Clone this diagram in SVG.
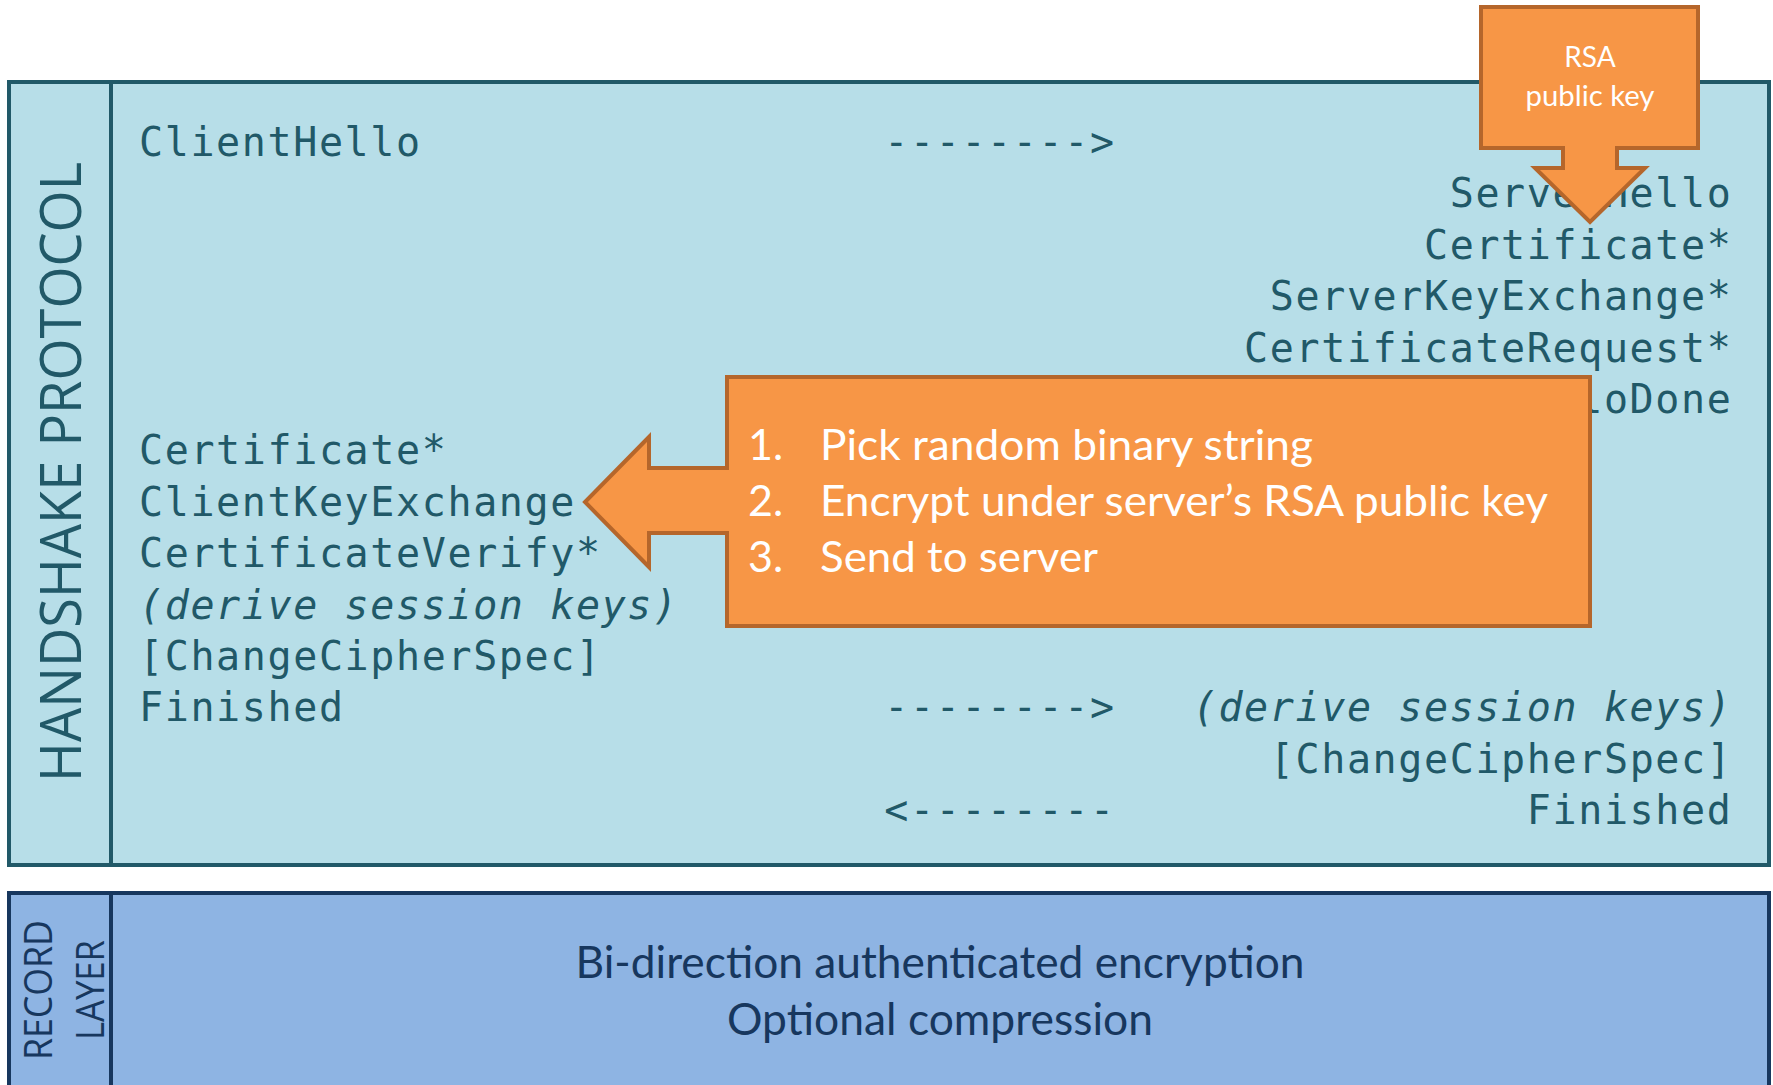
<svg xmlns="http://www.w3.org/2000/svg" width="1773" height="1085" viewBox="0 0 1773 1085">
<style>
.mono{font-family:"DejaVu Sans Mono","Liberation Mono",monospace;font-size:40px;letter-spacing:1.62px;fill:#215968}
.it{font-style:italic}
.callout{fill:#F79646;stroke:#B5662B;stroke-width:4;stroke-linejoin:miter}
.wt{font-family:Lato,"Open Sans",sans-serif;fill:#FFFFFF}
.side{font-family:"Open Sans","Noto Sans",sans-serif}
</style>
<rect width="1773" height="1085" fill="#FFFFFF"/>
<g id="handshake-box">
<rect x="9" y="82" width="1760" height="783" fill="#B7DEE8" stroke="#215968" stroke-width="4"/>
<line x1="111" y1="82" x2="111" y2="865" stroke="#215968" stroke-width="4"/>
<text class="side" transform="translate(81,472) rotate(-90)" text-anchor="middle" font-size="57" fill="#215968" textLength="620" lengthAdjust="spacingAndGlyphs">HANDSHAKE PROTOCOL</text>
</g>
<g id="messages">
<text class="mono" x="139" y="156">ClientHello</text>
<text class="mono" x="1449.7" y="207.4">ServerHello</text>
<text class="mono" x="1424" y="258.8">Certificate*</text>
<text class="mono" x="1269.8" y="310.2">ServerKeyExchange*</text>
<text class="mono" x="1244.1" y="361.6">CertificateRequest*</text>
<text class="mono" x="1346.9" y="413">ServerHelloDone</text>
<text class="mono" x="139" y="464.4">Certificate*</text>
<text class="mono" x="139" y="515.8">ClientKeyExchange</text>
<text class="mono" x="139" y="567.2">CertificateVerify*</text>
<text class="mono it" x="139" y="618.6">(derive session keys)</text>
<text class="mono" x="139" y="670">[ChangeCipherSpec]</text>
<text class="mono" x="139" y="721.4">Finished</text>
<text class="mono it" x="1192.7" y="721.4">(derive session keys)</text>
<text class="mono" x="1269.8" y="772.8">[ChangeCipherSpec]</text>
<text class="mono" x="1526.8" y="824.2">Finished</text>
</g>
<g id="connectors">
<text class="mono" x="884.3" y="156">--------&gt;</text>
<text class="mono" x="884.3" y="721.4">--------&gt;</text>
<text class="mono" x="884.3" y="824.2">&lt;--------</text>
</g>
<g id="record-box">
<rect x="9" y="893" width="1760" height="260" fill="#8EB4E3" stroke="#17375E" stroke-width="4"/>
<line x1="111" y1="893" x2="111" y2="1090" stroke="#17375E" stroke-width="4"/>
<text class="side" transform="translate(52,990) rotate(-90)" text-anchor="middle" font-size="38" fill="#17375E" textLength="140" lengthAdjust="spacingAndGlyphs">RECORD</text>
<text class="side" transform="translate(104,990) rotate(-90)" text-anchor="middle" font-size="38" fill="#17375E" textLength="100" lengthAdjust="spacingAndGlyphs">LAYER</text>
<text x="940" y="978" text-anchor="middle" font-family="Lato,'Open Sans',sans-serif" font-size="45" fill="#17375E" textLength="729" lengthAdjust="spacingAndGlyphs">Bi-direction authenticated encryption</text>
<text x="940" y="1035" text-anchor="middle" font-family="Lato,'Open Sans',sans-serif" font-size="45" fill="#17375E" textLength="426" lengthAdjust="spacingAndGlyphs">Optional compression</text>
</g>
<g id="rsa-callout">
<path class="callout" d="M1481,7 H1698 V148 H1617 V168 H1645 L1590,222 L1535,168 H1563 V148 H1481 Z"/>
<text class="wt" x="1590" y="67" text-anchor="middle" font-size="28">RSA</text>
<text class="wt" x="1590" y="106" text-anchor="middle" font-size="28" textLength="129" lengthAdjust="spacingAndGlyphs">public key</text>
</g>
<g id="steps-callout">
<path class="callout" d="M727,377 H1590 V626 H727 V533 H649 V567 L585,502 L649,437 V468 H727 Z"/>
<text class="wt" x="748" y="460" font-size="43">1.</text>
<text class="wt" x="820" y="460" font-size="43" textLength="493" lengthAdjust="spacingAndGlyphs">Pick random binary string</text>
<text class="wt" x="748" y="516" font-size="43">2.</text>
<text class="wt" x="820" y="516" font-size="43" textLength="728" lengthAdjust="spacingAndGlyphs">Encrypt under server’s RSA public key</text>
<text class="wt" x="748" y="572" font-size="43">3.</text>
<text class="wt" x="820" y="572" font-size="43" textLength="278" lengthAdjust="spacingAndGlyphs">Send to server</text>
</g>
</svg>
